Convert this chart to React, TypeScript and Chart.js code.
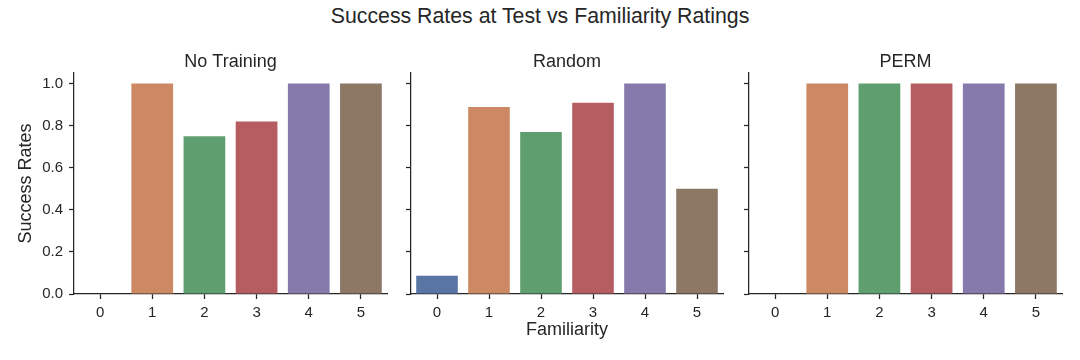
import React, { useEffect, useRef } from "react";
import { Chart, registerables } from "chart.js";

Chart.register(...registerables);

const categories = ["0", "1", "2", "3", "4", "5"];
const noTrainingRates = [0, 1.0, 0.75, 0.82, 1.0, 1.0];
const randomRates = [0.087, 0.889, 0.77, 0.909, 1.0, 0.5];
const permRates = [0, 1.0, 1.0, 1.0, 1.0, 1.0];
const yTickValues = [0, 0.2, 0.4, 0.6, 0.8, 1.0];
const panelTitles = ["No Training", "Random", "PERM"];
const mainTitle = "Success Rates at Test vs Familiarity Ratings";
const xAxisTitle = "Familiarity";
const yAxisTitle = "Success Rates";
const barColors = ["#5975a4", "#cc8963", "#5f9e6e", "#b55d60", "#857aab", "#8d7866"];

const FONT = "'Liberation Sans', Arial, Helvetica, sans-serif";
const INK = "#262626";
const CANVAS_TOP = 40;
const CANVAS_HEIGHT = 320;
const PLOT_TOP = 73;
const PLOT_BOTTOM = 294;

type Panel = {
  title: string;
  values: number[];
  left: number;
  width: number;
  yAxisWidth: number;
  rightPad: number;
  yLabels: boolean;
  yTitle: boolean;
  xTitle: boolean;
};

const panels: Panel[] = [
  { title: panelTitles[0], values: noTrainingRates, left: 0, width: 395, yAxisWidth: 74, rightPad: 8, yLabels: true, yTitle: true, xTitle: false },
  { title: panelTitles[1], values: randomRates, left: 395, width: 335, yAxisWidth: 16, rightPad: 7, yLabels: false, yTitle: false, xTitle: true },
  { title: panelTitles[2], values: permRates, left: 730, width: 350, yAxisWidth: 19, rightPad: 18, yLabels: false, yTitle: false, xTitle: false },
];

function PanelChart({ panel }: { panel: Panel }) {
  const ref = useRef<HTMLCanvasElement | null>(null);
  useEffect(() => {
    if (!ref.current) return;
    const titlePlugin = {
      id: "panelTitle",
      afterDraw(chart: any) {
        const { ctx, chartArea } = chart;
        ctx.save();
        ctx.font = `18px ${FONT}`;
        ctx.fillStyle = INK;
        ctx.textAlign = "center";
        ctx.textBaseline = "alphabetic";
        ctx.fillText(panel.title, (chartArea.left + chartArea.right) / 2, chartArea.top - 6.5);
        ctx.restore();
      },
    };
    const chart = new Chart(ref.current, {
      type: "bar",
      data: {
        labels: categories,
        datasets: [
          {
            label: panel.title,
            data: panel.values,
            backgroundColor: barColors,
            borderWidth: 0,
            categoryPercentage: 1.0,
            barPercentage: 0.8,
          },
        ],
      },
      plugins: [titlePlugin],
      options: {
        responsive: false,
        animation: false,
        layout: { padding: { top: PLOT_TOP - CANVAS_TOP, left: 0, right: panel.rightPad, bottom: 0 } },
        plugins: { legend: { display: false }, tooltip: { enabled: false }, title: { display: false } },
        scales: {
          x: {
            type: "category",
            offset: true,
            afterFit: (s: any) => {
              s.height = CANVAS_TOP + CANVAS_HEIGHT - PLOT_BOTTOM;
            },
            grid: {
              display: true,
              drawOnChartArea: false,
              drawTicks: true,
              offset: false,
              tickLength: 5,
              tickWidth: 1.25,
              tickColor: INK,
            },
            border: { display: true, color: INK, width: 1.25 },
            ticks: { font: { family: FONT, size: 15 }, color: INK, padding: 4.5, maxRotation: 0 },
            title: {
              display: panel.xTitle,
              text: xAxisTitle,
              font: { family: FONT, size: 18 },
              color: INK,
              padding: { top: 0, bottom: 19 },
            },
          },
          y: {
            type: "linear",
            min: 0,
            max: 1.05,
            afterBuildTicks: (s: any) => {
              s.ticks = yTickValues.map((v) => ({ value: v }));
            },
            afterFit: (s: any) => {
              s.width = panel.yAxisWidth;
            },
            grid: {
              display: true,
              drawOnChartArea: false,
              drawTicks: true,
              tickLength: 5,
              tickWidth: 1.25,
              tickColor: INK,
            },
            border: { display: true, color: INK, width: 1.25 },
            ticks: {
              font: { family: FONT, size: 15 },
              color: INK,
              padding: 6,
              callback: (v: any) => (panel.yLabels ? Number(v).toFixed(1) : ""),
            },
            title: {
              display: panel.yTitle,
              text: yAxisTitle,
              font: { family: FONT, size: 18 },
              color: INK,
              padding: { top: 15, bottom: 0 },
            },
          },
        },
      },
    } as any);
    return () => chart.destroy();
  }, [panel]);
  return (
    <canvas
      ref={ref}
      width={panel.width}
      height={CANVAS_HEIGHT}
      style={{ position: "absolute", left: panel.left, top: CANVAS_TOP, width: panel.width, height: CANVAS_HEIGHT }}
    />
  );
}

export default function App() {
  return (
    <div style={{ position: "fixed", left: 0, top: 0, width: 1080, height: 360, background: "#ffffff", overflow: "hidden" }}>
      <div
        style={{
          position: "absolute",
          left: 0,
          top: 4,
          width: 1080,
          textAlign: "center",
          fontFamily: FONT,
          fontSize: 21.3,
          lineHeight: "24px",
          color: INK,
        }}
      >
        {mainTitle}
      </div>
      {panels.map((p) => (
        <PanelChart key={p.title} panel={p} />
      ))}
    </div>
  );
}
